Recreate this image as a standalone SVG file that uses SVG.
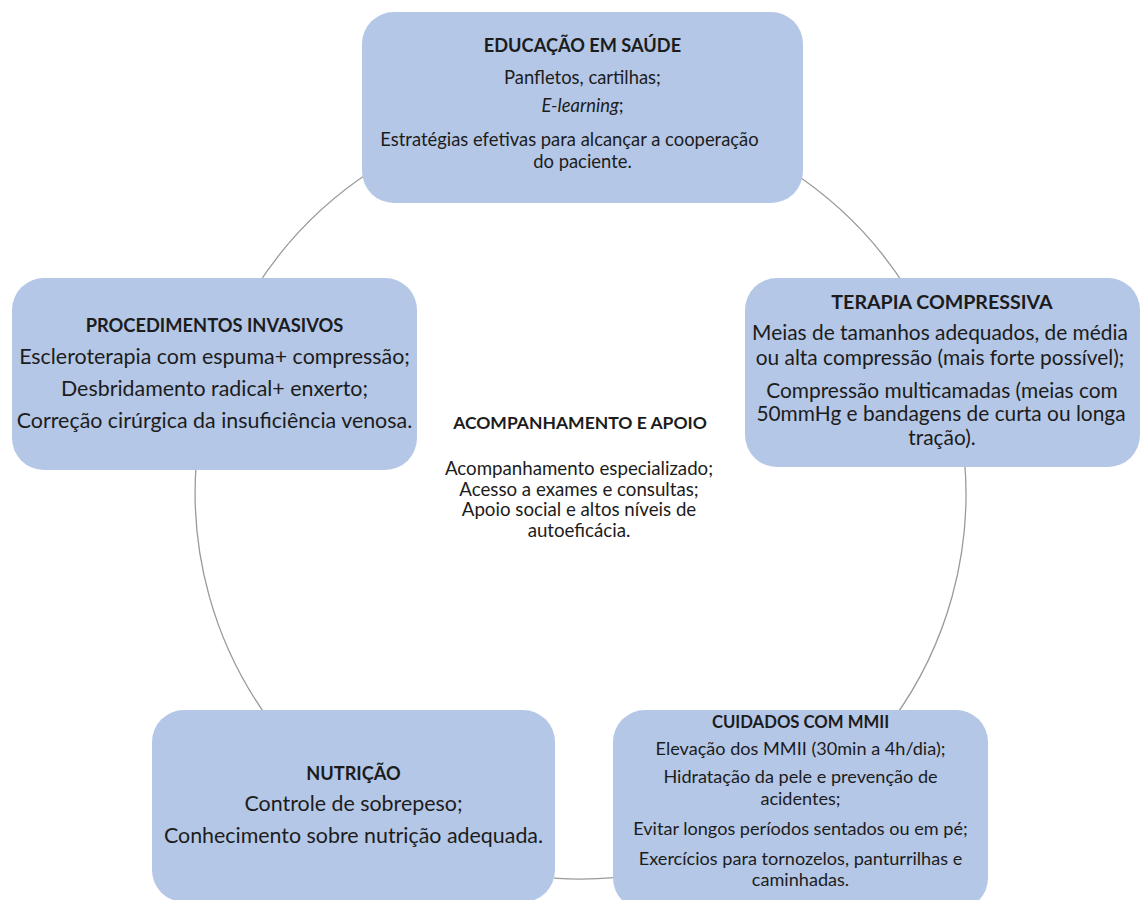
<svg xmlns="http://www.w3.org/2000/svg" width="1142" height="900" viewBox="0 0 1142 900">
<style>
  .box { fill: #b4c7e7; }
  .arc { fill: none; stroke: #9a9a9a; stroke-width: 1.3; }
  text { font-family: Lato, "Open Sans", "Liberation Sans", sans-serif; fill: #1c1c1c; text-anchor: middle; }
  .b { font-weight: bold; }
  .top { font-size: 18.4px; }
  .top-t { font-size: 18.2px; }
  .left { font-size: 21.4px; }
  .left-t { font-size: 18.3px; }
  .right { font-size: 20.9px; }
  .right-t { font-size: 19.6px; }
  .nut { font-size: 21.4px; }
  .nut-t { font-size: 18.2px; }
  .cui { font-size: 18.1px; }
  .cui-t { font-size: 16.7px; }
  .cen { font-size: 18.7px; }
  .cen-t { font-size: 17.5px; }
</style>
<rect width="1142" height="900" fill="#ffffff"/>
<g id="connectors">
  <path class="arc" d="M 789 170 A 385 385 0 0 1 907.5 290"/>
  <path class="arc" d="M 964.5 460 A 385 385 0 0 1 892.7 720"/>
  <path class="arc" d="M 614 877.6 A 385 385 0 0 1 554 878.1"/>
  <path class="arc" d="M 269.3 720 A 385 385 0 0 1 196.5 460"/>
  <path class="arc" d="M 254.5 290 A 385 385 0 0 1 373 170"/>
</g>
<g id="educacao">
  <rect class="box" x="362" y="12" width="441" height="191" rx="32"/>
  <text class="b top-t" x="582.5" y="52">EDUCAÇÃO EM SAÚDE</text>
  <text class="top" x="582.5" y="84">Panfletos, cartilhas;</text>
  <text class="top" x="582.5" y="112"><tspan font-style="italic">E-learning</tspan>;</text>
  <text class="top" x="569.5" y="146">Estratégias efetivas para alcançar a cooperação</text>
  <text class="top" x="582.5" y="168">do paciente.</text>
</g>
<g id="terapia">
  <rect class="box" x="745" y="278" width="395" height="189" rx="32"/>
  <text class="b right-t" x="942" y="309">TERAPIA COMPRESSIVA</text>
  <text class="right" x="940" y="340">Meias de tamanhos adequados, de média</text>
  <text class="right" x="940" y="365">ou alta compressão (mais forte possível);</text>
  <text class="right" x="942" y="398">Compressão multicamadas (meias com</text>
  <text class="right" x="941" y="421">50mmHg e bandagens de curta ou longa</text>
  <text class="right" x="942" y="445">tração).</text>
</g>
<g id="cuidados">
  <rect class="box" x="613" y="710" width="375" height="200" rx="32"/>
  <text class="b cui-t" x="800.5" y="728">CUIDADOS COM MMII</text>
  <text class="cui" x="800.5" y="755">Elevação dos MMII (30min a 4h/dia);</text>
  <text class="cui" x="800.5" y="783">Hidratação da pele e prevenção de</text>
  <text class="cui" x="800.5" y="805">acidentes;</text>
  <text class="cui" x="800.5" y="835">Evitar longos períodos sentados ou em pé;</text>
  <text class="cui" x="800.5" y="865">Exercícios para tornozelos, panturrilhas e</text>
  <text class="cui" x="800.5" y="886">caminhadas.</text>
</g>
<g id="nutricao">
  <rect class="box" x="152" y="710" width="403" height="192" rx="32"/>
  <text class="b nut-t" x="353.5" y="780">NUTRIÇÃO</text>
  <text class="nut" x="353.5" y="811">Controle de sobrepeso;</text>
  <text class="nut" x="353.5" y="843">Conhecimento sobre nutrição adequada.</text>
</g>
<g id="procedimentos">
  <rect class="box" x="12" y="278" width="405" height="192" rx="32"/>
  <text class="b left-t" x="214.5" y="332">PROCEDIMENTOS INVASIVOS</text>
  <text class="left" x="214.5" y="364">Escleroterapia com espuma+ compressão;</text>
  <text class="left" x="214.5" y="396">Desbridamento radical+ enxerto;</text>
  <text class="left" x="214.5" y="428">Correção cirúrgica da insuficiência venosa.</text>
</g>
<g id="acompanhamento">
  <text class="b cen-t" x="580" y="429">ACOMPANHAMENTO E APOIO</text>
  <text class="cen" x="579" y="475">Acompanhamento especializado;</text>
  <text class="cen" x="579" y="496">Acesso a exames e consultas;</text>
  <text class="cen" x="579" y="516">Apoio social e altos níveis de</text>
  <text class="cen" x="579" y="537">autoeficácia.</text>
</g>
</svg>
